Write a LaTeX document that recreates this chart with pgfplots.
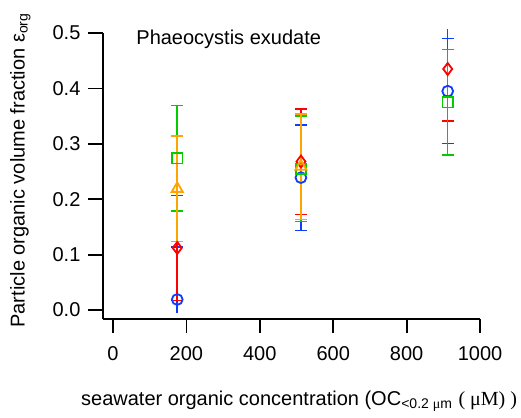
\documentclass[border=0pt]{standalone}
\usepackage{fontspec}
\setmainfont{Liberation Sans}
\newfontfamily\serif{Liberation Serif}
\usepackage{pgfplots}
\pgfplotsset{compat=1.18}
\definecolor{cblue}{RGB}{16,60,255}
\definecolor{cred}{RGB}{255,0,0}
\definecolor{cgreen}{RGB}{0,204,0}
\definecolor{corange}{RGB}{255,165,0}
\pgfplotsset{
  ebcommon/.style={color=#1, only marks, mark options={line width=0.9pt, fill=none, draw=#1},
    error bars/y explicit,
    error bars/error bar style={line width=0.75pt, color=#1, draw=#1, solid},
    error bars/error mark options={line width=0.65pt, mark size=3pt, rotate=90, draw=#1}},
  eb/.style={ebcommon=#1, error bars/y dir=both},
  ebplus/.style={ebcommon=#1, error bars/y dir=plus},
  ebminus/.style={ebcommon=#1, error bars/y dir=minus},
  ebnocap/.style={color=#1, mark=none,
    error bars/y explicit,
    error bars/error bar style={line width=0.75pt, color=#1, draw=#1, solid}, error bars/error mark=none},
}
\begin{document}
\begin{tikzpicture}
\begin{axis}[
  x=0.1835pt, y=277pt,
  xmin=-27, xmax=1000, ymin=-0.0155, ymax=0.5,
  axis x line*=bottom, axis y line*=left,
  axis line style={line width=0.9pt, -},
  every tick/.style={line width=0.9pt, black},
  tick align=outside, major tick length=7.3pt,
  xtick={0,200,...,1000}, ytick={0,0.1,...,0.5},
  xticklabel style={/pgf/number format/1000 sep={}},
  yticklabel style={/pgf/number format/fixed, /pgf/number format/fixed zerofill, /pgf/number format/precision=1},
  /pgf/number format/assume math mode=true,
  tick label style={font=\fontsize{10}{12}\selectfont},
  xticklabel style={yshift=-3pt},
  yticklabel style={xshift=-0.5pt},
  clip=false,
  xlabel={seawater organic concentration (OC\textsubscript{<0.2 {\serif μ}m} {\serif ( μM) )}},
  xlabel style={at={(axis description cs:0.52,-0.306)}, anchor=base, font=\fontsize{10}{12}\selectfont},
  ylabel={Particle organic volume fraction ε\textsubscript{org}},
  ylabel style={at={(axis description cs:-0.208,0.52)}, anchor=base, rotate=0, font=\fontsize{10}{12}\selectfont},
]
% blue
\addplot[eb=cblue, mark=o, mark size=2.7pt] coordinates {
  (512,0.239) +- (0,0.095)
  (912,0.395) +- (0,0.095)
};
\addplot[ebplus=cblue, mark=o, mark size=2.7pt] coordinates {
  (175,0.019) += (0,0.095)
};
\addplot[ebnocap=cblue, error bars/y dir=minus] coordinates {
  (175,0.019) -= (0,0.024)
};
% red
\addplot[eb=cred, mark=diamond, mark size=3pt] coordinates {
  (175,0.112) +- (0,0.095)
  (512,0.268) +- (0,0.095)
};
\addplot[ebminus=cred, mark=diamond, mark size=3pt] coordinates {
  (912,0.435) -= (0,0.094)
};
\addplot[ebnocap=cred, error bars/y dir=plus] coordinates {
  (912,0.435) += (0,0.072)
};
% green
\addplot[eb=cgreen, mark=square, mark size=2.6pt] coordinates {
  (175,0.274) +- (0,0.095)
  (512,0.255) +- (0,0.095)
  (912,0.375) +- (0,0.095)
};
% orange
\addplot[eb=corange, mark=triangle, mark size=3.2pt] coordinates {
  (175,0.219) +- (0,0.095)
  (512,0.259) +- (0,0.095)
};
\node[anchor=base west, inner sep=0pt, font=\fontsize{10}{12}\selectfont] at (axis cs:62.7,0.479) {Phaeocystis exudate};
\coordinate (bbbl) at (axis cs:-307.9,-0.1949);
\coordinate (bbtr) at (axis cs:1111.7,0.5596);
\end{axis}
\pgfresetboundingbox
\path[use as bounding box] (bbbl) rectangle (bbtr);
\end{tikzpicture}
\end{document}
